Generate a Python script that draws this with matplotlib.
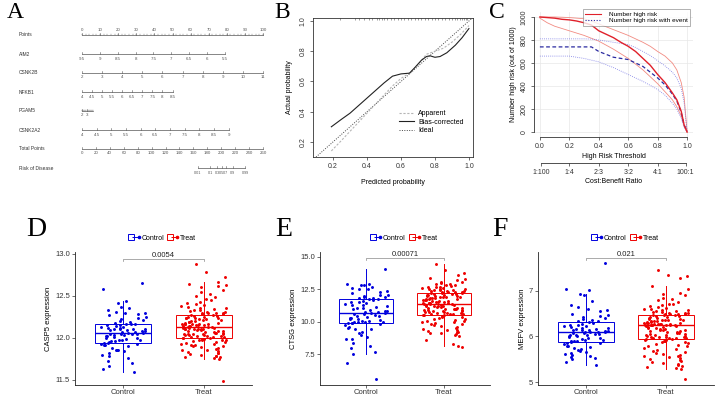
import numpy as np
import matplotlib
matplotlib.use("Agg")
import matplotlib.pyplot as plt
from matplotlib.lines import Line2D
from matplotlib.legend_handler import HandlerTuple

plt.rcParams['font.family'] = ['Liberation Sans', 'DejaVu Sans']

# ---------------- data ----------------
# A: nomogram scales
nomo_labels = ["Points", "AIM2", "CSNK2B", "NFKB1", "PGAM5", "CSNK2A2", "Total Points", "Risk of Disease"]
points_ticks = [0, 10, 20, 30, 40, 50, 60, 70, 80, 90, 100]
aim2_ticks = [9.5, 9, 8.5, 8, 7.5, 7, 6.5, 6, 5.5]
aim2_pts = (0, 79)
csnk2b_ticks = [2, 3, 4, 5, 6, 7, 8, 9, 10, 11]
csnk2b_pts = (0, 100)
nfkb1_ticks = [4, 4.5, 5, 5.5, 6, 6.5, 7, 7.5, 8, 8.5]
nfkb1_pts = (0, 50)
pgam5_ticks = [2, 3]
pgam5_pts = (0, 3)
csnk2a2_ticks = [4, 4.5, 5, 5.5, 6, 6.5, 7, 7.5, 8, 8.5, 9]
csnk2a2_pts = (0, 81)
total_ticks = [0, 20, 40, 60, 80, 100, 120, 140, 160, 180, 200, 220, 240, 260]
risk_ticks = [0.01, 0.1, 0.3, 0.5, 0.7, 0.9, 0.99]
risk_mid_total, risk_total_per_logit = 200.4, 7.34

# B: calibration
rug_x = [0.24, 0.33, 0.35, 0.38, 0.41, 0.43, 0.46, 0.47, 0.49, 0.50, 0.52, 0.54, 0.56, 0.58,
         0.60, 0.62, 0.64, 0.66, 0.68, 0.70, 0.72, 0.74, 0.76, 0.78, 0.80, 0.82, 0.84, 0.86,
         0.88, 0.90, 0.92, 0.93, 0.95, 0.96, 0.97, 0.98, 0.99]
bias_x = [0.19, 0.25, 0.30, 0.35, 0.40, 0.45, 0.50, 0.55, 0.60, 0.65, 0.68, 0.72, 0.75, 0.77,
          0.80, 0.83, 0.87, 0.92, 0.96, 1.00]
bias_y = [0.30, 0.35, 0.39, 0.44, 0.49, 0.54, 0.59, 0.635, 0.65, 0.655, 0.69, 0.74, 0.765, 0.77,
          0.76, 0.765, 0.79, 0.84, 0.89, 0.95]
app_x = [0.19, 0.25, 0.30, 0.35, 0.40, 0.45, 0.50, 0.55, 0.60, 0.65, 0.70, 0.75, 0.80, 0.85,
         0.90, 0.95, 1.00]
app_y = [0.14, 0.21, 0.27, 0.33, 0.39, 0.45, 0.51, 0.57, 0.62, 0.655, 0.71, 0.78, 0.80, 0.82,
         0.86, 0.91, 0.97]

# C: clinical impact curve
thr = [0.0, 0.05, 0.1, 0.15, 0.2, 0.25, 0.3, 0.35, 0.4, 0.45, 0.5, 0.55, 0.6, 0.65, 0.7, 0.75,
       0.8, 0.85, 0.9, 0.93, 0.96, 0.98, 1.0]
hr = [1000, 995, 990, 980, 975, 965, 950, 930, 880, 850, 820, 780, 745, 700, 640, 580, 500, 430,
      340, 280, 180, 60, 0]
hr_hi = [1000, 1000, 1000, 998, 995, 990, 985, 965, 940, 915, 890, 865, 840, 810, 780, 745, 700,
         660, 600, 540, 430, 300, 0]
hr_lo = [990, 950, 920, 900, 880, 860, 840, 815, 790, 755, 720, 680, 640, 590, 540, 480, 420,
         350, 280, 220, 140, 50, 0]
ev = [740, 740, 740, 740, 740, 740, 740, 740, 700, 675, 650, 640, 630, 600, 570, 520, 470, 410,
      330, 270, 170, 60, 10]
ev_hi = [810, 810, 810, 810, 810, 810, 810, 808, 800, 790, 780, 770, 760, 735, 700, 665, 620,
         575, 520, 470, 380, 250, 0]
ev_lo = [660, 660, 660, 660, 660, 650, 640, 625, 610, 585, 560, 530, 500, 470, 440, 405, 370,
         320, 250, 200, 120, 40, 0]
cost_ticks = [0.01, 0.2, 0.4, 0.6, 0.8, 0.99]
cost_labels = ["1:100", "1:4", "2:3", "3:2", "4:1", "100:1"]

# D-F: expression
groups = ["Control", "Treat"]
casp5_control = [12.65, 12.58, 12.44, 12.42, 12.37, 12.35, 12.33, 12.31, 12.30, 12.29,
                 12.28, 12.27, 12.25, 12.24, 12.22, 12.21, 12.20, 12.19, 12.18, 12.17,
                 12.17, 12.16, 12.15, 12.15, 12.14, 12.13, 12.13, 12.12, 12.12, 12.11,
                 12.11, 12.10, 12.10, 12.09, 12.09, 12.08, 12.08, 12.07, 12.07, 12.06,
                 12.06, 12.05, 12.05, 12.04, 12.04, 12.03, 12.03, 12.02, 12.02, 12.01,
                 12.00, 12.00, 11.99, 11.98, 11.98, 11.97, 11.96, 11.96, 11.95, 11.94,
                 11.94, 11.93, 11.93, 11.92, 11.91, 11.90, 11.88, 11.86, 11.85, 11.85,
                 11.84, 11.82, 11.80, 11.78, 11.76, 11.73, 11.70, 11.66, 11.63, 11.60]
casp5_treat = [12.88, 12.78, 12.72, 12.66, 12.64, 12.63, 12.62, 12.60, 12.57, 12.55, 12.52, 12.50,
               12.48, 12.46, 12.45, 12.43, 12.42, 12.40, 12.39, 12.38, 12.37, 12.36, 12.35, 12.34,
               12.33, 12.33, 12.32, 12.31, 12.31, 12.30, 12.30, 12.29, 12.29, 12.28, 12.28,
               12.27, 12.27, 12.26, 12.26, 12.25, 12.25, 12.24, 12.24, 12.23, 12.23, 12.22, 12.22,
               12.21, 12.21, 12.20, 12.20, 12.19, 12.19, 12.18, 12.18, 12.17, 12.17, 12.17, 12.16,
               12.16, 12.16, 12.15, 12.15, 12.15, 12.14, 12.14, 12.14, 12.13, 12.13, 12.13,
               12.12, 12.12, 12.12, 12.11, 12.11, 12.11, 12.10, 12.10, 12.10, 12.09, 12.09, 12.08,
               12.08, 12.08, 12.07, 12.07, 12.06, 12.06, 12.06, 12.05, 12.05, 12.04, 12.04, 12.04,
               12.03, 12.03, 12.03, 12.02, 12.02, 12.02, 12.01, 12.01, 12.01, 12.00, 12.00,
               12.00, 11.99, 11.99, 11.98, 11.98, 11.97, 11.97, 11.96, 11.95, 11.95, 11.94, 11.93,
               11.93, 11.92, 11.91, 11.90, 11.90, 11.89, 11.88, 11.87, 11.86, 11.85, 11.84, 11.83,
               11.82, 11.82, 11.81, 11.80, 11.79, 11.78, 11.77, 11.77, 11.76, 11.75, 11.49]
ctsg_control = [14.04, 12.95, 12.9, 12.85, 12.8, 12.7, 12.62, 12.55, 12.5, 12.4, 12.3, 12.2, 12.1,
                12.05, 12.0, 11.95, 11.9, 11.85, 11.82, 11.78,
                11.75, 11.7, 11.62, 11.55, 11.5, 11.45, 11.4, 11.32, 11.28, 11.2, 11.15, 11.1,
                11.05, 10.98, 10.9, 10.85, 10.8, 10.75, 10.72, 10.7,
                10.66, 10.62, 10.58, 10.52, 10.48, 10.42, 10.38, 10.32, 10.28, 10.22, 10.18,
                10.12, 10.08, 10.05, 10.02, 10.0, 9.98, 9.95, 9.93, 9.91,
                9.88, 9.82, 9.75, 9.6, 9.5, 9.48, 9.45, 9.2, 9.1, 9.0, 8.8, 8.7, 8.65, 8.4, 8.1,
                7.95, 7.7, 7.55, 6.84, 5.58]
ctsg_treat = [14.44, 14.0, 13.8, 13.6, 13.4, 13.3, 13.2, 13.1, 13.05, 13.0, 12.95, 12.9, 12.85,
              12.8, 12.75, 12.7, 12.68, 12.65, 12.6, 12.58, 12.55, 12.52, 12.5, 12.47, 12.45,
              12.42, 12.4, 12.38, 12.35, 12.33, 12.3, 12.28, 12.26, 12.24, 12.23,
              12.2, 12.18, 12.15, 12.12, 12.1, 12.08, 12.05, 12.02, 12.0, 11.98, 11.95, 11.92,
              11.9, 11.88, 11.85, 11.82, 11.8, 11.78, 11.75, 11.72, 11.7, 11.68, 11.65, 11.62,
              11.6, 11.58, 11.55, 11.53, 11.5, 11.48, 11.46, 11.45, 11.43, 11.42, 11.41,
              11.38, 11.35, 11.32, 11.3, 11.28, 11.25, 11.22, 11.2, 11.18, 11.15, 11.12, 11.1,
              11.08, 11.05, 11.02, 11.0, 10.98, 10.95, 10.92, 10.9, 10.88, 10.85, 10.82, 10.8,
              10.78, 10.75, 10.72, 10.7, 10.68, 10.65, 10.62, 10.6, 10.58, 10.57, 10.56,
              10.53, 10.5, 10.45, 10.4, 10.35, 10.3, 10.25, 10.2, 10.15, 10.1, 10.05, 10.0, 9.95,
              9.9, 9.85, 9.8, 9.75, 9.7, 9.6, 9.5, 9.45, 9.4, 9.35, 9.3, 9.25, 9.2, 9.15, 9.1,
              9.05, 9.0, 8.9, 8.6, 8.3, 8.1, 8.05]
mefv_control = [7.6, 7.05, 7.02, 6.93, 6.9, 6.78, 6.68, 6.65, 6.6, 6.58, 6.55, 6.5, 6.48, 6.45,
                6.42, 6.4, 6.38, 6.36, 6.34, 6.33,
                6.31, 6.3, 6.28, 6.26, 6.25, 6.23, 6.22, 6.2, 6.19, 6.18, 6.17, 6.16, 6.15, 6.14,
                6.13, 6.12, 6.11, 6.1, 6.1, 6.09,
                6.09, 6.08, 6.07, 6.06, 6.05, 6.04, 6.03, 6.02, 6.01, 6.0, 5.99, 5.97, 5.96, 5.95,
                5.93, 5.92, 5.91, 5.9, 5.89, 5.88,
                5.86, 5.85, 5.83, 5.8, 5.78, 5.76, 5.75, 5.72, 5.7, 5.68, 5.66, 5.64, 5.62, 5.6,
                5.58, 5.55, 5.52, 5.5, 5.45, 5.37]
mefv_treat = [7.45, 7.35, 7.32, 7.28, 7.1, 7.05, 6.95, 6.92, 6.9, 6.85, 6.82, 6.8, 6.75, 6.72,
              6.7, 6.68, 6.66, 6.65, 6.62, 6.6, 6.6, 6.58, 6.57, 6.56, 6.55, 6.54, 6.53, 6.52,
              6.52, 6.51, 6.5, 6.5, 6.49, 6.49, 6.48,
              6.47, 6.46, 6.45, 6.44, 6.43, 6.42, 6.41, 6.4, 6.39, 6.38, 6.37, 6.36, 6.36, 6.35,
              6.34, 6.33, 6.33, 6.32, 6.31, 6.3, 6.3, 6.29, 6.29, 6.28, 6.28, 6.27, 6.27, 6.27,
              6.26, 6.26, 6.26, 6.25, 6.25, 6.25, 6.25,
              6.24, 6.23, 6.22, 6.21, 6.2, 6.19, 6.18, 6.17, 6.16, 6.15, 6.14, 6.13, 6.12, 6.11,
              6.1, 6.09, 6.08, 6.07, 6.06, 6.05, 6.04, 6.03, 6.02, 6.01, 6.0, 5.99, 5.99, 5.98,
              5.98, 5.97, 5.97, 5.96, 5.96, 5.95, 5.95,
              5.93, 5.92, 5.91, 5.9, 5.88, 5.87, 5.85, 5.83, 5.82, 5.8, 5.78, 5.75, 5.72, 5.7,
              5.68, 5.66, 5.64, 5.62, 5.6, 5.58, 5.56, 5.54, 5.52, 5.5, 5.48, 5.46, 5.44, 5.42,
              5.4, 5.38, 5.35, 5.33, 5.31, 5.29, 5.06]
p_values = ["0.0054", "0.00071", "0.021"]

# ---------------- figure ----------------
W, H = 719, 396
fig = plt.figure(figsize=(7.19, 3.96), dpi=100)


def rect(l, t, r, b):
    return [l / W, 1 - b / H, (r - l) / W, (b - t) / H]


# overlay in pixel units (nomogram + panel letters)
ov = fig.add_axes([0, 0, 1, 1])
ov.set_xlim(0, W)
ov.set_ylim(H, 0)
ov.axis('off')

for letter, lx, ly, fs in [("A", 7, 18, 17), ("B", 274, 18, 17), ("C", 489, 18, 17),
                           ("D", 26, 236, 20), ("E", 275, 236, 20), ("F", 492, 236, 20)]:
    ov.text(lx, ly, letter, family='Liberation Serif', fontsize=fs, va='baseline', ha='left')

# ---- A: nomogram ----
X0, PX_PT = 82, 1.81          # pixel start, pixels per point
PX_TOT = 181 / 260            # pixels per total point
row_y = [35, 54, 73, 92, 111, 130, 149, 168]
ncol = '#555555'


def nomo_row(y, pos, labels, above=False, minor=None, fs=3.2):
    ends = pos if minor is None else minor + pos
    ov.plot([min(ends), max(ends)], [y, y], color=ncol, lw=0.5)
    for p, s in zip(pos, labels):
        ov.plot([p, p], [y, y - 2], color=ncol, lw=0.4)
        ov.text(p, y - 3 if above else y + 2.5, s, fontsize=fs, color=ncol,
                ha='center', va='bottom' if above else 'top')
    if minor is not None:
        for p in minor:
            ov.plot([p, p], [y, y - 1], color=ncol, lw=0.3)


def fmt(v):
    return "%g" % v


for lab, y in zip(nomo_labels, row_y):
    ov.text(19, y, lab, fontsize=3.5, color='#333333', va='center', ha='left')

nomo_row(row_y[0], [X0 + v * PX_PT for v in points_ticks], [fmt(v) for v in points_ticks],
         above=True, minor=[X0 + v * PX_PT for v in range(0, 101, 2)])

for y, ticks, pts in [(row_y[1], aim2_ticks, aim2_pts), (row_y[2], csnk2b_ticks, csnk2b_pts),
                      (row_y[3], nfkb1_ticks, nfkb1_pts), (row_y[5], csnk2a2_ticks, csnk2a2_pts)]:
    slope = (pts[1] - pts[0]) / (ticks[-1] - ticks[0])
    pos = [X0 + (pts[0] + (v - ticks[0]) * slope) * PX_PT for v in ticks]
    nomo_row(y, pos, [fmt(v) for v in ticks])

slope5 = (pgam5_pts[1] - pgam5_pts[0]) / (pgam5_ticks[-1] - pgam5_ticks[0])
pos5 = [X0 + (v - pgam5_ticks[0]) * slope5 * PX_PT for v in pgam5_ticks]
nomo_row(row_y[4], pos5, [fmt(v) for v in pgam5_ticks],
         minor=[pos5[0] + k * 1.1 for k in range(11)])

nomo_row(row_y[6], [X0 + v * PX_TOT for v in total_ticks], [fmt(v) for v in total_ticks])
risk_pos = [X0 + (risk_mid_total + risk_total_per_logit * np.log(p / (1 - p))) * PX_TOT
            for p in risk_ticks]
nomo_row(row_y[7], risk_pos, [fmt(v) for v in risk_ticks], fs=2.7)

# ---- B: calibration ----
axB = fig.add_axes(rect(313, 18, 473, 157))
axB.set_xlim(0.082, 1.024)
axB.set_ylim(0.10, 1.02)
axB.axline((0, 0), slope=1, color='#444444', lw=0.7, ls=(0, (1, 1.5)))
axB.plot(app_x, app_y, color='#b5b5b5', lw=0.8, ls=(0, (2, 1.5)))
axB.plot(bias_x, bias_y, color='#222222', lw=0.8)
axB.vlines(rug_x, 1.005, 1.02, color='#555555', lw=0.4)
axB.set_xticks([0.2, 0.4, 0.6, 0.8, 1.0])
axB.set_yticks([0.2, 0.4, 0.6, 0.8, 1.0])
axB.set_xticklabels(["0.2", "0.4", "0.6", "0.8", "1.0"])
axB.set_yticklabels(["0.2", "0.4", "0.6", "0.8", "1.0"], rotation=90, va='center')
axB.tick_params(length=2.5, width=0.5, labelsize=5, pad=2, colors='#333333')
for s in axB.spines.values():
    s.set_linewidth(0.6)
    s.set_color('#333333')
axB.set_xlabel("Predicted probability", fontsize=5, labelpad=6)
axB.set_ylabel("Actual probability", fontsize=5, labelpad=5)
hB = [Line2D([], [], color='#b5b5b5', lw=0.8, ls=(0, (2, 1.5))),
      Line2D([], [], color='#222222', lw=0.8),
      Line2D([], [], color='#444444', lw=0.7, ls=(0, (1, 1.5)))]
axB.legend(hB, ["Apparent", "Bias-corrected", "Ideal"], loc='lower right',
           bbox_to_anchor=(0.98, 0.12), frameon=False, fontsize=5, handlelength=2.2,
           labelspacing=0.2, handletextpad=0.6)

# ---- C: clinical impact ----
axC = fig.add_axes(rect(534, 12.4, 693, 136.6))
axC.set_xlim(-0.04, 1.04)
axC.set_ylim(-40, 1040)
axC.grid(color='#e8e8e8', lw=0.5)
axC.set_axisbelow(True)
axC.plot(thr, hr_hi, color='#f28b82', lw=0.6)
axC.plot(thr, hr_lo, color='#f28b82', lw=0.6)
axC.plot(thr, ev_hi, color='#7a7ae6', lw=0.6, ls=(0, (1, 1.5)))
axC.plot(thr, ev_lo, color='#7a7ae6', lw=0.6, ls=(0, (1, 1.5)))
axC.plot(thr, ev, color='#2a2aa0', lw=0.9, ls=(0, (3, 2)))
axC.plot(thr, hr, color='#e0202a', lw=1.0)
for k in ['top', 'right']:
    axC.spines[k].set_visible(False)
axC.spines['left'].set_bounds(0, 1000)
axC.spines['bottom'].set_bounds(0, 1)
for k in ['left', 'bottom']:
    axC.spines[k].set_linewidth(0.6)
    axC.spines[k].set_color('#333333')
axC.set_xticks([0, 0.2, 0.4, 0.6, 0.8, 1.0])
axC.set_xticklabels(["0.0", "0.2", "0.4", "0.6", "0.8", "1.0"])
axC.set_yticks([0, 200, 400, 600, 800, 1000])
axC.set_yticklabels(["0", "200", "400", "600", "800", "1000"], rotation=90, va='center')
axC.tick_params(length=2.5, width=0.5, labelsize=5, pad=2, colors='#333333')
axC.set_xlabel("High Risk Threshold", fontsize=5, labelpad=2)
axC.set_ylabel("Number high risk (out of 1000)", fontsize=5, labelpad=3)
sec = axC.secondary_xaxis(-0.213)
sec.set_xticks(cost_ticks)
sec.set_xticklabels(cost_labels)
sec.spines['bottom'].set_bounds(cost_ticks[0], cost_ticks[-1])
sec.spines['bottom'].set_linewidth(0.6)
sec.spines['bottom'].set_color('#333333')
sec.tick_params(length=2.5, width=0.5, labelsize=5, pad=2, colors='#333333')
sec.set_xlabel("Cost:Benefit Ratio", fontsize=5, labelpad=1)
hC = [Line2D([], [], color='#e0202a', lw=0.8), Line2D([], [], color='#2a2aa0', lw=0.8, ls=(0, (1, 1.5)))]
legC = fig.legend(hC, ["Number high risk", "Number high risk with event"], loc='upper right',
                  bbox_to_anchor=(693 / W, 1 - 6 / H), fontsize=4.6, frameon=True, fancybox=False,
                  handlelength=2.5, labelspacing=0.15, borderpad=0.35, handletextpad=1.2)
legC.get_frame().set_linewidth(0.5)
legC.get_frame().set_edgecolor('#777777')

# ---- D, E, F: boxplots ----
BLUE, RED = '#0000dd', '#ee0000'


def box_panel(r, ctrl, treat, ylim, yticks, ylabel, pval, yb, drop):
    ax = fig.add_axes(r)
    cols = [BLUE, RED]
    bp = ax.boxplot([ctrl, treat], positions=[1, 2], widths=0.7, showfliers=False,
                    showcaps=False, patch_artist=True, whis=1.5)
    for i, c in enumerate(cols):
        bp['boxes'][i].set(facecolor='white', edgecolor=c, linewidth=0.7)
        bp['medians'][i].set(color=c, linewidth=1.0)
        for w in bp['whiskers'][2 * i:2 * i + 2]:
            w.set(color=c, linewidth=0.7)
    for i, (vals, c) in enumerate(zip([ctrl, treat], cols)):
        n = len(vals)
        # deterministic hash-style jitter (horizontal position only)
        h = np.sin((np.arange(n) + 7 * i + 1) * 12.9898) * 43758.5453
        jit = (h - np.floor(h) - 0.5) * 0.56
        ax.scatter(np.full(n, i + 1) + jit, vals, s=4.5, color=c, linewidths=0, zorder=3)
    ax.set_xlim(0.4, 2.6)
    ax.set_ylim(*ylim)
    ax.set_yticks(yticks)
    ax.set_xticks([1, 2])
    ax.set_xticklabels(groups)
    for k in ['top', 'right']:
        ax.spines[k].set_visible(False)
    for k in ['left', 'bottom']:
        ax.spines[k].set_linewidth(0.6)
        ax.spines[k].set_color('#222222')
    ax.tick_params(length=2, width=0.5, labelsize=5.5, pad=1.5, colors='#333333')
    ax.tick_params(axis='x', pad=0.8)
    ax.set_ylabel(ylabel, fontsize=5.5, labelpad=2)
    ax.plot([1, 1, 2, 2], [yb - drop, yb, yb, yb - drop], color='#888888', lw=0.5)
    ax.text(1.5, yb, pval, ha='center', va='bottom', fontsize=5.5, color='#222222')
    handles = [(Line2D([], [], marker='s', mfc='white', mec=c, ms=5, mew=0.7, ls=''),
                Line2D([], [], marker='_', color=c, ms=5, mew=0.7, ls=''),
                Line2D([], [], marker='o', color=c, ms=1.6, ls=''))
               for c in cols]
    ax.legend(handles, groups, handler_map={tuple: HandlerTuple(ndivide=None)}, loc='center',
              bbox_to_anchor=(0.5, 1 + 14 / 133), ncol=2, frameon=False, fontsize=5,
              handlelength=1.2, handletextpad=0.3, columnspacing=0.8)
    return ax


box_panel(rect(75, 252, 252, 385), casp5_control, casp5_treat, (11.44, 13.02),
          [11.5, 12.0, 12.5, 13.0], "CASP5 expression", p_values[0], 12.94, 0.025)
box_panel(rect(320, 252, 490, 385), ctsg_control, ctsg_treat, (5.13, 15.38),
          [7.5, 10.0, 12.5, 15.0], "CTSG expression", p_values[1], 14.92, 0.15)
box_panel(rect(538, 252, 714, 385), mefv_control, mefv_treat, (4.935, 7.85),
          [5, 6, 7], "MEFV expression", p_values[2], 7.72, 0.04)

fig.savefig("out.png", dpi=100)
